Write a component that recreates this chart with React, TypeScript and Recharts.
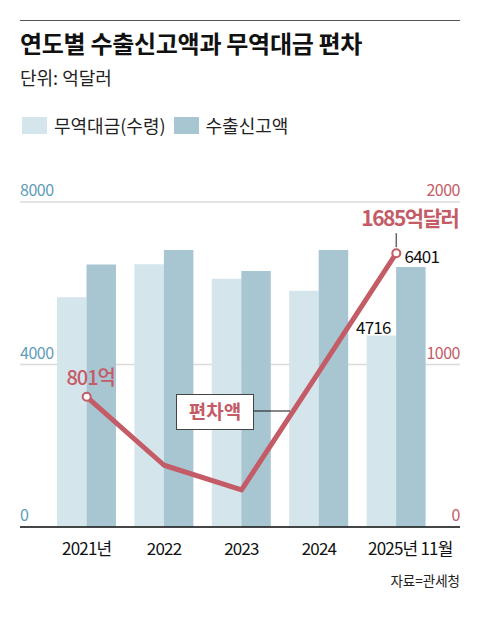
import React from "react";
import {
  ComposedChart,
  Bar,
  Line,
  XAxis,
  YAxis,
  CartesianGrid,
  LabelList,
} from "recharts";

const years = ["2021년", "2022", "2023", "2024", "2025년 11월"];
const payments = [5654, 6466, 6113, 5817, 4716]; // 무역대금(수령)
const declared = [6460, 6820, 6300, 6820, 6401]; // 수출신고액
const gaps = [801, 380, 228, 955, 1685]; // 편차액
const leftTicks = [0, 4000, 8000];
const rightTicks = [0, 1000, 2000];

const data = years.map((year, i) => ({
  year,
  payment: payments[i],
  declared: declared[i],
  gap: gaps[i],
}));

const FONT = "'Noto Sans CJK KR', 'Noto Sans', sans-serif";
const LIGHT = "#d4e5ec";
const DARK = "#a7c6d2";
const RED = "#c35c66";
const BLUE = "#5f9cba";
const last = years.length - 1;

const GapDot = (props: any) => {
  const { cx, cy, index } = props;
  if (index !== 0 && index !== last) return null;
  return <circle key={index} cx={cx} cy={cy} r={4} fill="#fff" stroke={RED} strokeWidth={2} />;
};

const GapLabel = (props: any) => {
  const { x, y, index, value } = props;
  if (index === 0) {
    return (
      <text x={x + 4} y={y - 12} textAnchor="middle" fill={RED} fontSize={20} fontWeight={500} letterSpacing={-1} fontFamily={FONT}>
        {value}억
      </text>
    );
  }
  if (index === last) {
    return (
      <g>
        <line x1={x} y1={y - 6} x2={x} y2={y - 20} stroke="#666" strokeWidth={1.5} />
        <text x={x + 62} y={y - 27} textAnchor="end" fill={RED} fontSize={21} fontWeight={700} letterSpacing={-1.5} fontFamily={FONT}>
          {value}억달러
        </text>
      </g>
    );
  }
  return null;
};

const BarValue = (dx: number, dy: number) => (props: any) => {
  const { x, y, width, index, value } = props;
  if (index !== last) return null;
  return (
    <text x={x + width / 2 + dx} y={y + dy} textAnchor="middle" fill="#111" fontSize={17} letterSpacing={-0.8} fontFamily={FONT}>
      {value}
    </text>
  );
};

const XTick = (props: any) => {
  const { x, y, payload, index } = props;
  return (
    <text x={x + (index === last ? 14 : 0)} y={y + 20} textAnchor="middle" fill="#111" fontSize={17} letterSpacing={-0.8} fontFamily={FONT}>
      {payload.value}
    </text>
  );
};

const LeftTick = (props: any) => (
  <text x={20} y={props.y - 6} textAnchor="start" fill={BLUE} fontSize={16} letterSpacing={-0.5} fontFamily={FONT}>
    {props.payload.value}
  </text>
);

const RightTick = (props: any) => (
  <text x={460} y={props.y - 6} textAnchor="end" fill={RED} fontSize={16} letterSpacing={-0.5} fontFamily={FONT}>
    {props.payload.value}
  </text>
);

export default function App() {
  return (
    <div style={{ position: "absolute", left: 0, top: 0, width: 480, height: 620, background: "#fff", fontFamily: FONT }}>
      <div style={{ position: "absolute", left: 20, top: 20, width: 440, borderTop: "1px solid #555" }} />
      <div style={{ position: "absolute", left: 20, top: 27, fontSize: 24, fontWeight: 700, color: "#111", letterSpacing: -0.3, lineHeight: "32px", whiteSpace: "nowrap" }}>
        연도별 수출신고액과 무역대금 편차
      </div>
      <div style={{ position: "absolute", left: 20, top: 64, fontSize: 18, color: "#222", lineHeight: "26px" }}>
        단위: 억달러
      </div>
      <div style={{ position: "absolute", left: 22, top: 112, display: "flex", alignItems: "center", fontSize: 18, color: "#222", lineHeight: "26px" }}>
        <span style={{ width: 25, height: 17, background: LIGHT, display: "inline-block" }} />
        <span style={{ marginLeft: 7 }}>무역대금(수령)</span>
        <span style={{ width: 25, height: 17, background: DARK, display: "inline-block", marginLeft: 8 }} />
        <span style={{ marginLeft: 7 }}>수출신고액</span>
      </div>
      <div style={{ position: "absolute", left: 0, top: 0 }}>
        <ComposedChart
          width={480}
          height={620}
          data={data}
          margin={{ top: 202, right: 19, bottom: 0, left: 19 }}
          barGap={0}
        >
          <CartesianGrid vertical={false} stroke="#dadada" strokeWidth={1.5} yAxisId="left" />
          <XAxis
            dataKey="year"
            padding={{ left: 28, right: 25 }}
            axisLine={{ stroke: "#111", strokeWidth: 1.5 }}
            tickLine={false}
            tick={<XTick />}
            interval={0}
            height={93}
          />
          <YAxis yAxisId="left" domain={[0, 8000]} ticks={leftTicks} interval={0} width={1} axisLine={false} tickLine={false} tick={<LeftTick />} />
          <YAxis yAxisId="right" orientation="right" domain={[0, 2000]} ticks={rightTicks} interval={0} width={1} axisLine={false} tickLine={false} tick={<RightTick />} />
          <Bar yAxisId="left" dataKey="payment" fill={LIGHT} barSize={29.5} isAnimationActive={false}>
            <LabelList dataKey="payment" content={BarValue(-8, -1)} />
          </Bar>
          <Bar yAxisId="left" dataKey="declared" fill={DARK} barSize={29.5} isAnimationActive={false}>
            <LabelList dataKey="declared" content={BarValue(11, -4)} />
          </Bar>
          <Line
            yAxisId="right"
            dataKey="gap"
            stroke={RED}
            strokeWidth={5}
            strokeLinejoin="round"
            dot={<GapDot />}
            activeDot={false}
            isAnimationActive={false}
          >
            <LabelList dataKey="gap" content={GapLabel} />
          </Line>
        </ComposedChart>
      </div>
      {/* 편차액 callout box, drawn on top of the bars */}
      <svg width={480} height={620} style={{ position: "absolute", left: 0, top: 0, pointerEvents: "none" }}>
        <line x1={253} y1={411} x2={290} y2={411} stroke="#111" strokeWidth={1} />
        <rect x={176.5} y={394.5} width={77} height={35} fill="#fff" stroke="#444" strokeWidth={1} />
        <text x={215} y={419} textAnchor="middle" fill={RED} fontSize={19} fontWeight={700} fontFamily={FONT}>
          편차액
        </text>
      </svg>
      <div style={{ position: "absolute", right: 20, top: 571, fontSize: 13.5, color: "#222", lineHeight: "18px" }}>
        자료=관세청
      </div>
    </div>
  );
}
